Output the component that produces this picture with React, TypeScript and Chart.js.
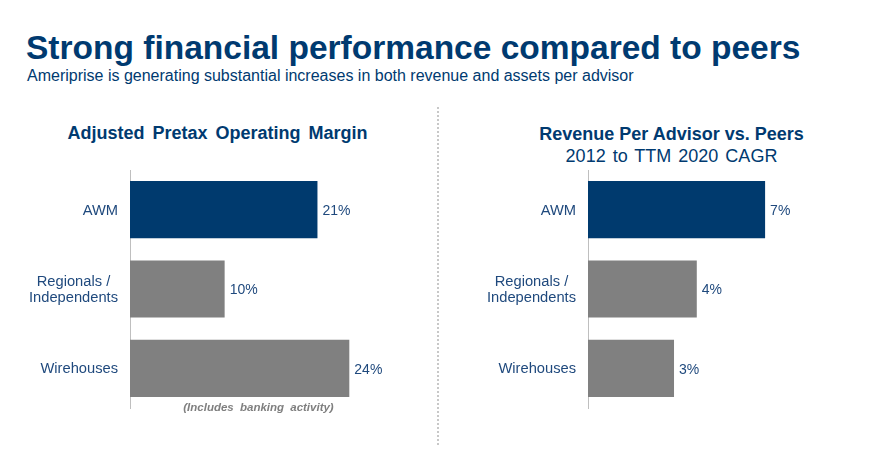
import React, { useEffect, useRef } from "react";
import { Chart, registerables } from "chart.js";

Chart.register(...registerables);

// ---- Data ----
const CATEGORIES: string[][] = [["AWM"], ["Regionals /", "Independents"], ["Wirehouses"]];
const MARGIN_VALUES = [20.6, 10.4, 24.1]; // Adjusted Pretax Operating Margin (%)
const REVENUE_CAGR_VALUES = [7.0, 4.3, 3.4]; // Revenue per advisor CAGR (%)
const BAR_COLORS = ["#003A6E", "#808080", "#808080"];

const FONT = "'Liberation Sans', Arial, Helvetica, sans-serif";
const NAVY = "#003A70";
const TEXT_BLUE = "#1F497D";

const labelPlugin = {
  id: "customLabels",
  afterDatasetsDraw(chart: any) {
    const ctx = chart.ctx as CanvasRenderingContext2D;
    const meta = chart.getDatasetMeta(0);
    const ds = chart.data.datasets[0];
    ctx.save();
    ctx.fillStyle = TEXT_BLUE;
    ctx.font = `14px ${FONT}`;
    ctx.textAlign = "left";
    ctx.textBaseline = "middle";
    meta.data.forEach((el: any, i: number) => {
      ctx.fillText(Math.round(ds.data[i]) + "%", el.x + 5, el.y + 1.5);
    });
    const yScale = chart.scales.y;
    const right = yScale.right - 12;
    ctx.font = `14.7px ${FONT}`;
    ctx.textAlign = "center";
    chart.data.labels.forEach((lab: any, i: number) => {
      const lines: string[] = Array.isArray(lab) ? lab : [lab];
      const y = yScale.getPixelForTick(i) + 0.8;
      const blockW = Math.max(...lines.map((l) => ctx.measureText(l).width));
      const cx = right - blockW / 2;
      lines.forEach((l, j) => {
        ctx.fillText(l, cx, y + (j - (lines.length - 1) / 2) * 16.7);
      });
    });
    ctx.restore();
  },
};

function BarChart(props: {
  values: number[];
  max: number;
  axisWidth: number;
  padRight: number;
  style: React.CSSProperties;
}) {
  const ref = useRef<HTMLCanvasElement>(null);
  useEffect(() => {
    if (!ref.current) return;
    const chart = new Chart(ref.current, {
      type: "bar",
      data: {
        labels: CATEGORIES,
        datasets: [
          {
            data: props.values,
            backgroundColor: BAR_COLORS,
            borderWidth: 0,
            barPercentage: 0.72,
            categoryPercentage: 1,
          },
        ],
      },
      options: {
        indexAxis: "y",
        animation: false,
        responsive: false,
        maintainAspectRatio: false,
        layout: { padding: { top: 5, bottom: 7, left: 0, right: props.padRight } },
        plugins: { legend: { display: false }, tooltip: { enabled: false }, title: { display: false } },
        scales: {
          x: { display: false, min: 0, max: props.max },
          y: {
            display: true,
            grid: { display: false },
            border: { display: true, color: "#BFBFBF", width: 1 },
            ticks: { display: false },
            afterFit: (scale: any) => {
              scale.width = props.axisWidth;
            },
          },
        },
      },
      plugins: [labelPlugin],
    });
    return () => chart.destroy();
  }, []);
  return <canvas ref={ref} width={props.style.width as number} height={props.style.height as number} style={props.style} />;
}

function Text(props: { children: React.ReactNode; style: React.CSSProperties }) {
  return (
    <div
      style={{
        position: "absolute",
        fontFamily: FONT,
        whiteSpace: "nowrap",
        ...props.style,
      }}
    >
      {props.children}
    </div>
  );
}

export default function App() {
  return (
    <div
      style={{
        position: "fixed",
        left: 0,
        top: 0,
        width: 871,
        height: 466,
        background: "#ffffff",
        overflow: "hidden",
      }}
    >
      <Text style={{ left: 26, top: 31, fontSize: 33.5, lineHeight: "33.5px", fontWeight: "bold", color: NAVY }}>
        Strong financial performance compared to peers
      </Text>
      <Text style={{ left: 27, top: 68, fontSize: 16, lineHeight: "16px", color: NAVY }}>
        Ameriprise is generating substantial increases in both revenue and assets per advisor
      </Text>

      <Text
        style={{
          left: 17.5,
          width: 400,
          textAlign: "center",
          top: 124,
          fontSize: 18,
          lineHeight: "18px",
          fontWeight: "bold",
          wordSpacing: 3,
          color: NAVY,
        }}
      >
        Adjusted Pretax Operating Margin
      </Text>

      <Text
        style={{
          left: 471.5,
          width: 400,
          textAlign: "center",
          top: 125,
          fontSize: 18,
          lineHeight: "18px",
          fontWeight: "bold",
          color: NAVY,
        }}
      >
        Revenue Per Advisor vs. Peers
      </Text>
      <Text
        style={{
          left: 471.5,
          width: 400,
          textAlign: "center",
          top: 147,
          fontSize: 18,
          lineHeight: "18px",
          wordSpacing: 2,
          color: NAVY,
        }}
      >
        2012 to TTM 2020 CAGR
      </Text>

      <div
        style={{
          position: "absolute",
          left: 437,
          top: 107,
          height: 338,
          width: 0,
          borderLeft: "2px dotted #C8C8C8",
        }}
      />

      <BarChart
        values={MARGIN_VALUES}
        max={30}
        axisWidth={130}
        padRight={34}
        style={{ position: "absolute", left: 0, top: 165, width: 437, height: 250 }}
      />
      <BarChart
        values={REVENUE_CAGR_VALUES}
        max={10}
        axisWidth={151}
        padRight={30}
        style={{ position: "absolute", left: 437, top: 165, width: 434, height: 250 }}
      />

      <Text
        style={{
          left: 58.5,
          width: 400,
          textAlign: "center",
          top: 402,
          fontSize: 11.5,
          lineHeight: "11.5px",
          fontWeight: "bold",
          fontStyle: "italic",
          wordSpacing: 3,
          color: "#7F7F7F",
        }}
      >
        (Includes banking activity)
      </Text>
    </div>
  );
}
